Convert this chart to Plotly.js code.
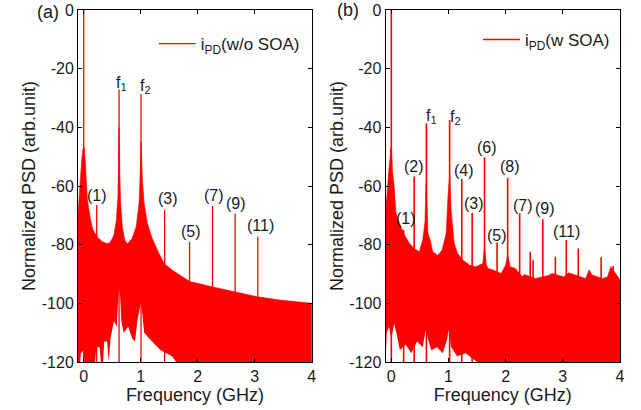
<!DOCTYPE html>
<html>
<head>
<meta charset="utf-8">
<script src="https://cdn.plot.ly/plotly-3.0.1.min.js"></script>
<style>html,body{margin:0;padding:0;background:#fff;}#chart{width:641px;height:410px;}</style>
</head>
<body>
<div id="chart"></div>
<script>
// ---------- tick labels ----------
const freqTicks = [0, 1, 2, 3, 4];
const levelTicks = [-120, -100, -80, -60, -40, -20, 0];
const levelTickText = ['-120', '-100', '-80', '-60', '-40', '-20', '0'];

// ---------- panel (a): i_PD without SOA ----------
// upper edge of the noise band (GHz, dB)
const envAFreq = [-0.1, -0.09, -0.08, -0.06, -0.03, -0.01, 0.01, 0.03, 0.05, 0.065, 0.12, 0.163, 0.24, 0.33, 0.4, 0.45, 0.5, 0.53, 0.573, 0.6, 0.608, 0.614, 0.62, 0.626, 0.632, 0.648, 0.677, 0.72, 0.765, 0.85, 0.92, 0.97, 0.99, 1.0, 1.005, 1.012, 1.03, 1.06, 1.115, 1.2, 1.32, 1.41, 1.55, 1.73, 1.87, 1.96, 2.28, 2.63, 3.03, 3.44, 4.0];
const envALevel = [-70, -67, -64, -58, -50, -47, -47, -52, -60, -64.8, -71.6, -75, -77.5, -79, -79.6, -79.5, -78, -76.7, -71.6, -63.6, -55, -45, -40, -45, -55, -65.9, -73.9, -78.4, -79.8, -77.8, -73.9, -65.9, -56, -48, -45, -48, -58, -65.9, -72.7, -77.8, -83, -86.4, -88.6, -90.9, -92.6, -93, -94.5, -96, -97.7, -98.9, -100];
// lower edge of the noise band (where the noise minima leave white gaps)
const floorAFreq = [-0.1, -0.06, -0.05, 0.0, 0.01, 0.2, 0.22, 0.28, 0.3, 0.34, 0.36, 0.41, 0.44, 0.47, 0.53, 0.58, 0.6, 0.62, 0.64, 0.66, 0.7, 0.78, 0.85, 0.9, 0.94, 0.98, 1.0, 1.03, 1.06, 1.15, 1.25, 1.35, 1.45, 1.55, 1.62, 4.0];
const floorALevel = [-120, -120, -117, -116, -120, -120, -115, -115, -120, -120, -113, -113, -120, -112, -106, -108, -100, -94.5, -98, -106, -110, -108, -112, -113, -106, -102, -100, -104, -110, -112, -114, -116, -117, -118, -120, -120];
// spectral lines
const peakAFreq = [0, 0.228, 0.62, 1.005, 1.419, 1.856, 2.259, 2.656, 3.053];
const peakALevel = [0, -66.5, -27.1, -28.6, -68.2, -79.0, -66.8, -69.5, -77.3];
// line labels
const labelAText = ['f<sub>1</sub>', 'f<sub>2</sub>', '(1)', '(3)', '(5)', '(7)', '(9)', '(11)'];
const labelAFreq = [0.665, 1.091, 0.236, 1.471, 1.886, 2.277, 2.674, 3.1];
const labelALevel = [-25.2, -26.1, -63.1, -64.4, -75.6, -63.3, -65.9, -73.6];

// ---------- panel (b): i_PD with SOA ----------
const envBFreq = [-0.1, -0.08, -0.065, -0.04, -0.02, -0.01, 0.005, 0.02, 0.05, 0.08, 0.14, 0.17, 0.23, 0.315, 0.4, 0.49, 0.55, 0.59, 0.603, 0.614, 0.625, 0.64, 0.68, 0.725, 0.81, 0.89, 0.96, 0.99, 1.02, 1.045, 1.1, 1.16, 1.25, 1.37, 1.48, 1.6, 1.63, 1.66, 1.69, 1.78, 1.92, 2.0, 2.035, 2.08, 2.17, 2.29, 2.33, 2.52, 2.75, 2.81, 3.02, 3.1, 3.4, 3.46, 3.51, 3.69, 3.78, 3.84, 4.0];
const envBLevel = [-68, -64, -60, -54, -50, -47, -47, -55, -60, -69, -72.7, -74, -76.7, -79.5, -81.3, -82.4, -78.4, -72, -62, -58, -66, -76.1, -78.4, -82.4, -83.7, -81.8, -76.1, -64, -56, -68, -79.5, -83, -85.2, -87, -87.5, -86.4, -80.7, -86.5, -88.1, -88.6, -89.8, -87, -83.5, -87.5, -88.1, -90.9, -90.2, -91.5, -90.5, -89.8, -91, -89.6, -91.5, -88.6, -90.3, -91.5, -91, -87.5, -92];
const floorBFreq = [-0.1, -0.08, -0.04, 0.0, 0.05, 0.1, 0.15, 0.25, 0.35, 0.45, 0.55, 0.6, 0.64, 0.7, 0.8, 0.9, 0.98, 1.0, 1.05, 1.15, 1.3, 1.5, 4.0];
const floorBLevel = [-120, -110, -108, -112, -107, -111, -116, -114, -117, -113, -115, -109, -112, -116, -115, -117, -112, -109, -115, -118, -117, -120, -120];
const peakBFreq = [0, 0.216, 0.40, 0.614, 1.02, 1.233, 1.414, 1.63, 1.85, 2.035, 2.245, 2.43, 2.48, 2.65, 2.87, 3.06, 3.27, 3.67, 3.88];
const peakBLevel = [0, -75, -56.8, -38.6, -37.5, -57.6, -69.1, -50.3, -79.3, -57.3, -69.3, -82.4, -85.2, -71.3, -84.1, -78.4, -81.3, -84.3, -87.3];
const labelBText = ['f<sub>1</sub>', 'f<sub>2</sub>', '(2)', '(4)', '(6)', '(8)', '(1)', '(3)', '(5)', '(7)', '(9)', '(11)'];
const labelBFreq = [0.695, 1.119, 0.4, 1.277, 1.672, 2.07, 0.256, 1.44, 1.856, 2.3, 2.684, 3.067];
const labelBLevel = [-36.4, -36.8, -53.4, -54.8, -46.9, -53.3, -71.0, -66.0, -77.0, -66.5, -67.6, -75.6];

// ---------- build ----------
const RED = '#ff0000';
const FONT = 'Liberation Sans, Arial, Helvetica, sans-serif';
const TXT = '#1a1a1a';
const XR = [-0.1, 4], YR = [-120, 0];

// polygon from a curve down to the bottom of the axis
function toBottom(xs, ys) {
  return {x: xs.concat([xs[xs.length - 1], xs[0], xs[0]]),
          y: ys.concat([YR[0], YR[0], ys[0]])};
}
function lines(fs, ls) {
  const x = [], y = [];
  fs.forEach((f, i) => { x.push(f, f, null); y.push(YR[0], ls[i], null); });
  return {x, y};
}

function panel(envF, envL, flF, flL, pkF, pkL, xa, ya, name, leg, lw) {
  const red = toBottom(envF, envL);
  const white = toBottom(flF, flL);
  const ln = lines(pkF, pkL);
  return [
    {x: red.x, y: red.y, xaxis: xa, yaxis: ya, mode: 'lines', fill: 'toself',
     fillcolor: RED, line: {color: RED, width: 0.6, simplify: false}, showlegend: false, hoverinfo: 'skip'},
    {x: white.x, y: white.y, xaxis: xa, yaxis: ya, mode: 'lines', fill: 'toself',
     fillcolor: '#ffffff', line: {color: 'rgba(0,0,0,0)', width: 0, simplify: false}, showlegend: false, hoverinfo: 'skip'},
    {x: ln.x, y: ln.y, xaxis: xa, yaxis: ya, mode: 'lines', connectgaps: false,
     line: {color: RED, width: lw}, name: name, legend: leg}
  ];
}

const traces = []
  .concat(panel(envAFreq, envALevel, floorAFreq, floorALevel, peakAFreq, peakALevel, 'x', 'y', 'i<sub>PD</sub>(w/o SOA)', 'legend', 1.3))
  .concat(panel(envBFreq, envBLevel, floorBFreq, floorBLevel, peakBFreq, peakBLevel, 'x2', 'y2', 'i<sub>PD</sub>(w SOA)', 'legend2', 1.6));

function xax(domain, anchor) {
  return {domain, anchor, range: XR, tickmode: 'array', tickvals: freqTicks,
    ticktext: freqTicks.map(String), ticks: 'inside', ticklen: 4, tickcolor: '#000',
    showline: true, linecolor: '#000', linewidth: 1, mirror: 'ticks', showgrid: false,
    zeroline: false, tickfont: {family: FONT, size: 16, color: TXT},
    title: {text: 'Frequency (GHz)', font: {family: FONT, size: 18, color: TXT}, standoff: 2}};
}
function yax(anchor) {
  return {domain: [0, 1], anchor, range: YR, tickmode: 'array', tickvals: levelTicks,
    ticktext: levelTickText, ticks: 'inside', ticklen: 4, tickcolor: '#000',
    showline: true, linecolor: '#000', linewidth: 1, mirror: 'ticks', showgrid: false,
    zeroline: false, tickfont: {family: FONT, size: 16, color: TXT},
    title: {text: 'Normalized PSD (arb.unit)', font: {family: FONT, size: 18, color: TXT}, standoff: 1}};
}

function labels(texts, xs, ys, xr, yr) {
  return texts.map((t, i) => ({text: t, x: xs[i], y: ys[i], xref: xr, yref: yr,
    showarrow: false, xanchor: 'center', yanchor: 'middle',
    font: {family: FONT, size: 16, color: TXT}}));
}

const annotations = []
  .concat(labels(labelAText, labelAFreq, labelALevel, 'x', 'y'))
  .concat(labels(labelBText, labelBFreq, labelBLevel, 'x2', 'y2'))
  .concat([
    {text: '(a)', xref: 'x domain', yref: 'y domain', x: -0.1275, y: 0.994, showarrow: false,
     xanchor: 'center', yanchor: 'middle', font: {family: FONT, size: 18, color: TXT}},
    {text: '(b)', xref: 'x2 domain', yref: 'y2 domain', x: -0.161, y: 1.0, showarrow: false,
     xanchor: 'center', yanchor: 'middle', font: {family: FONT, size: 18, color: TXT}}
  ]);

const layout = {
  width: 641, height: 410,
  margin: {l: 78.3, r: 21, t: 10, b: 48},
  paper_bgcolor: '#fff', plot_bgcolor: '#fff',
  font: {family: FONT, color: TXT},
  xaxis: xax([0, 0.4314], 'y'),
  yaxis: yax('x'),
  xaxis2: xax([0.5675, 1], 'y2'),
  yaxis2: yax('x2'),
  legend: {x: 0.1397, y: 0.903, xanchor: 'left', yanchor: 'middle', bgcolor: 'rgba(0,0,0,0)',
    borderwidth: 0, itemwidth: 37, font: {family: FONT, size: 17, color: TXT}},
  legend2: {x: 0.7379, y: 0.915, xanchor: 'left', yanchor: 'middle', bgcolor: 'rgba(0,0,0,0)',
    borderwidth: 0, itemwidth: 37, font: {family: FONT, size: 17, color: TXT}},
  annotations,
  showlegend: true
};

Plotly.newPlot('chart', traces, layout, {staticPlot: true, displayModeBar: false});
</script>
</body>
</html>
